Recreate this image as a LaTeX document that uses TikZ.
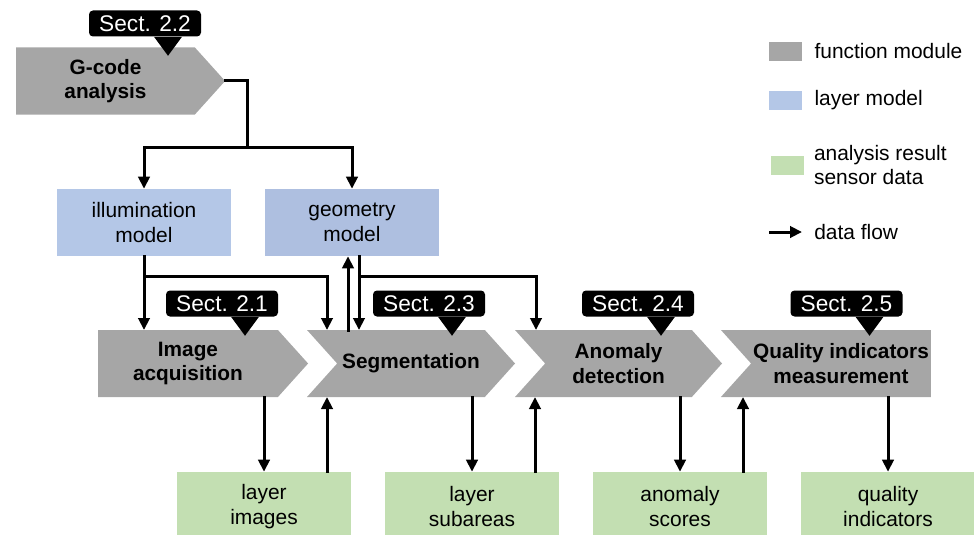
\documentclass[tikz,border=0pt]{standalone}
\usepackage{fontspec}
\setmainfont{Liberation Sans}
\usetikzlibrary{shapes.symbols,arrows.meta,positioning}

\definecolor{modgray}{HTML}{A6A6A6}
\definecolor{illumblue}{HTML}{B4C7E7}
\definecolor{geomblue}{HTML}{AEBFE0}
\definecolor{resgreen}{HTML}{C3DFB2}

\begin{document}
\begin{tikzpicture}[x=0.75pt,y=-0.75pt,
	txt/.style={font=\fontsize{15.7}{18.5}\selectfont,align=center,inner sep=0pt},
	module/.style={signal,signal to=east,signal from=nowhere,signal pointer angle=96,
		fill=modgray,minimum height=50.25pt,inner sep=0pt,outer sep=0pt,align=center,
		font=\fontsize{15.6}{18.5}\selectfont\bfseries},
	layer/.style={txt,minimum width=130.5pt,minimum height=50.25pt},
	result/.style={txt,fill=resgreen,minimum width=130.5pt,minimum height=51.75pt},
	sect/.style={fill=black,text=white,rounded corners=3pt,minimum width=84pt,
		minimum height=19.5pt,inner sep=0pt,font=\fontsize{17}{20}\selectfont},
	legbox/.style={minimum width=24.75pt,minimum height=14.25pt,inner sep=0pt},
	wire/.style={line width=2.25pt,line cap=rect},
	flow/.style={wire,-{Triangle[width=8.5pt,length=9pt]}}]
	\useasboundingbox (0,0) rectangle (974,535);

	% function modules
	\node[module,minimum width=156.75pt] (gcode) at (105.5,81) {G-code\\analysis};
	\node[module,minimum width=157.5pt] (acq) at (188,363.5) {Image\\acquisition};
	\node[module,signal from=west,minimum width=156pt] (seg) at (411,363.5) {Segmentation};
	\node[module,signal from=west,minimum width=155.25pt] (anom) at (618.5,363.5) {Anomaly\\detection};
	\node[module,signal from=west,signal to=nowhere,minimum width=157.5pt] (qual) at (841,363.5) {Quality indicators\\measurement};

	% layer models
	\node[layer,fill=illumblue] (illum) at (144,222.5) {illumination\\model};
	\node[layer,fill=geomblue] (geom) at (352,222.5) {geometry\\model};

	% results
	\node[result] (imgs) at (264,506.5) {layer\\images};
	\node[result] (subs) at (472,506.5) {layer\\subareas};
	\node[result] (scores) at (680,506.5) {anomaly\\scores};
	\node[result] (quals) at (888,506.5) {quality\\indicators};

	% section tags
	\node[sect] (s22) at (145,23.5) {Sect. 2.2};
	\node[sect] (s21) at (222,303.5) {Sect. 2.1};
	\node[sect] (s23) at (429,303.5) {Sect. 2.3};
	\node[sect] (s24) at (638,303.5) {Sect. 2.4};
	\node[sect] (s25) at (846.5,303.5) {Sect. 2.5};
	\foreach \s in {s21,s22,s23,s24,s25}
		\fill ([xshift=6.75pt]\s.south) -- ([xshift=17.25pt,yshift=-14.25pt]\s.south)
			-- ([xshift=27.75pt]\s.south) -- cycle;

	% data flow
	\coordinate (split) at (247,147);
	\draw[wire] (gcode.east) -| (split);
	\draw[flow] (split) -| (illum.north);
	\draw[flow] (split) -| (geom.north);

	\draw[flow] (illum.south) -- (illum.south |- acq.north);
	\draw[flow] (illum.south) ++(0,20) -| ([xshift=47.25pt]imgs.north |- seg.north);
	\draw[flow] ([xshift=-3pt]geom.south |- seg.north) -- ([xshift=-3pt]geom.south);
	\draw[flow] ([xshift=5.25pt]geom.south) -- ([xshift=5.25pt]geom.south |- seg.north);
	\draw[flow] ([xshift=5.25pt]geom.south) ++(0,20) -| ([xshift=48pt]subs.north |- anom.north);

	\draw[flow] (imgs.north |- acq.south) -- (imgs.north);
	\draw[flow] ([xshift=47.25pt]imgs.north) -- ([xshift=47.25pt]imgs.north |- seg.south);
	\draw[flow] (subs.north |- seg.south) -- (subs.north);
	\draw[flow] ([xshift=47.25pt]subs.north) -- ([xshift=47.25pt]subs.north |- anom.south);
	\draw[flow] (scores.north |- anom.south) -- (scores.north);
	\draw[flow] ([xshift=47.25pt]scores.north) -- ([xshift=47.25pt]scores.north |- qual.south);
	\draw[flow] (quals.north |- qual.south) -- (quals.north);

	% legend
	\node[legbox,fill=modgray] (kfun) at (785.5,51.5) {};
	\node[txt,right=9pt of kfun] (tfun) {function module};
	\node[legbox,fill=illumblue] (klay) at (785.5,100.5) {};
	\node[txt,right=9pt of klay] (tlay) {layer model};
	\node[legbox,fill=resgreen] (kres) at (787,165) {};
	\node[txt,align=left,right=7.5pt of kres] (tres) {analysis result\\sensor data};
	\node[txt,anchor=west] (tflow) at (814,232) {data flow};
	\draw[flow] ([xshift=-33pt]tflow.west) -- ([xshift=-9pt]tflow.west);
\end{tikzpicture}
\end{document}
